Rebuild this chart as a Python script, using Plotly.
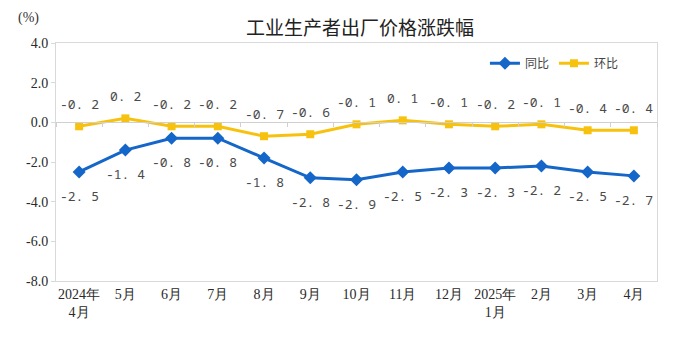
import plotly.graph_objects as go

categories = ["2024年<br>4月", "5月", "6月", "7月", "8月", "9月", "10月", "11月", "12月",
              "2025年<br>1月", "2月", "3月", "4月"]
yoy = [-2.5, -1.4, -0.8, -0.8, -1.8, -2.8, -2.9, -2.5, -2.3, -2.3, -2.2, -2.5, -2.7]
mom = [-0.2, 0.2, -0.2, -0.2, -0.7, -0.6, -0.1, 0.1, -0.1, -0.2, -0.1, -0.4, -0.4]
y_ticks = [4, 2, 0, -2, -4, -6, -8]

BLUE = "#1466c9"
YELLOW = "#f7c20f"

def fmt(v):
    return f"{v:.1f}".replace(".", ". ")

fig = go.Figure()
fig.add_trace(go.Scatter(x=categories, y=yoy, name="同比", mode="lines+markers",
                         line=dict(color=BLUE, width=3),
                         marker=dict(symbol="diamond", size=10, color=BLUE)))
fig.add_trace(go.Scatter(x=categories, y=mom, name="环比", mode="lines+markers",
                         line=dict(color=YELLOW, width=3),
                         marker=dict(symbol="square", size=8, color=YELLOW)))
# invisible trace for the zero-line axis ticks
fig.add_trace(go.Scatter(x=categories, y=[0] * len(categories), xaxis="x2", yaxis="y",
                         mode="markers", marker=dict(opacity=0), showlegend=False,
                         hoverinfo="skip"))

label_font = dict(family="Noto Sans Mono, DejaVu Sans Mono, monospace", size=13, color="#4a4a4a")
for c, v in zip(categories, mom):
    fig.add_annotation(x=c, y=v, text=fmt(v), showarrow=False, yshift=22, font=label_font)
for c, v in zip(categories, yoy):
    fig.add_annotation(x=c, y=v, text=fmt(v), showarrow=False, yshift=-24, font=label_font)

fig.add_annotation(text="(%)", xref="paper", yref="paper", x=-0.045, y=1.105,
                   xanchor="center", yanchor="middle", showarrow=False,
                   font=dict(family="Liberation Serif", size=14, color="#333333"))

fig.update_layout(
    width=680, height=349,
    margin=dict(l=56, r=23, t=43, b=68),
    paper_bgcolor="white", plot_bgcolor="white",
    title=dict(text="工业生产者出厂价格涨跌幅", x=360 / 680, xanchor="center",
               y=1 - 28 / 349, yanchor="middle", yref="container",
               font=dict(family="Noto Sans CJK SC", size=19, color="#222222")),
    legend=dict(orientation="h", x=0.945, xanchor="right", y=0.915, yanchor="middle",
                bgcolor="rgba(0,0,0,0)", font=dict(family="Noto Sans CJK SC", size=12, color="#444444"),
                itemwidth=30, tracegroupgap=0),
    xaxis=dict(type="category", range=[-0.5, 12.5], showgrid=False,
               showline=True, linecolor="#d9d9d9", mirror=True, ticks="",
               tickfont=dict(family="Liberation Serif", size=14, color="#2a2a2a")),
    xaxis2=dict(type="category", range=[-0.5, 12.5], overlaying="x", anchor="free",
                position=(0 - (-8)) / 12, showline=True, linecolor="#d0d0d0",
                ticks="outside", tickson="boundaries", ticklen=4, tickcolor="#d0d0d0",
                showticklabels=False, showgrid=False, side="bottom"),
    yaxis=dict(range=[-8, 4], tickvals=y_ticks, ticktext=[f"{t:.1f}" for t in y_ticks],
               showgrid=False, zeroline=False, showline=True, linecolor="#d9d9d9", mirror=True,
               ticks="outside", ticklen=4, tickcolor="#d9d9d9",
               tickfont=dict(family="Liberation Serif", size=14, color="#2a2a2a")),
    showlegend=True,
)

fig.write_html("out.html")
